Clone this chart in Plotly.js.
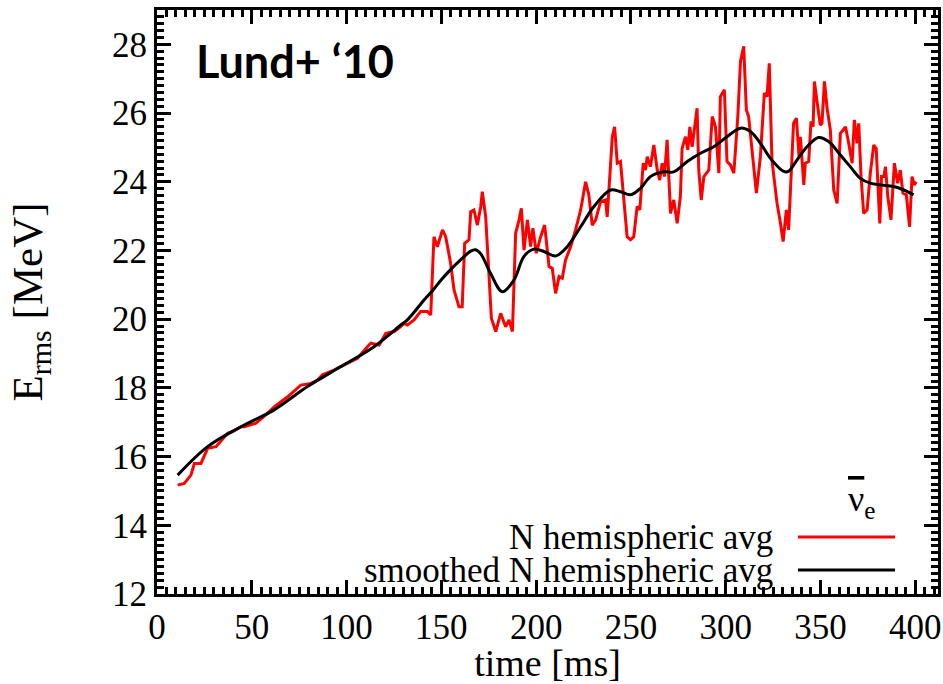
<!DOCTYPE html>
<html>
<head>
<meta charset="utf-8">
<script src="https://cdn.plot.ly/plotly-3.0.1.min.js"></script>
<style>html,body{margin:0;padding:0;background:#fff;}#chart{width:943px;height:684px;}</style>
</head>
<body>
<div id="chart"></div>
<script>
// time [ms] and E_rms [MeV] for the N hemispheric average (red)
const timeRaw = [10.9,14.4,17.9,19.7,23.2,26.7,31.1,37.3,39.9,44.3,46,52.2,58.3,61.8,68.9,75.9,81.2,84.7,87.3,93.4,100.5,105.8,111,112.8,117.2,120.7,125.1,128.6,130.3,132.1,135.6,139.1,142.7,144.4,146.1,147.9,150.6,152.3,154.1,154.9,156.7,159.3,161,162.3,164.6,165.5,167.2,169,170.8,171.6,173.4,175.1,176.4,178.7,181.3,183.9,185.7,187.5,189.2,191,192.2,193.6,195.4,197.1,198.3,200.1,202.4,204.5,206.8,208.5,210.3,212.1,213.8,215.5,218.2,220.8,223.5,226.1,227.8,229.6,231.4,234,236.6,237.5,240.2,241.4,242.8,244.5,248,249.8,251.5,253.3,254.7,256.5,257.7,258.6,260.3,262.1,263.9,265.2,266.5,267.7,269.1,270.9,272.6,274.4,276.1,277,278.8,280,281.1,282.3,283.7,284.9,285.8,287.1,288.5,291.1,292.9,294.6,296.4,297.2,299.3,300.7,302.5,304.3,306.4,307.8,309.5,310.9,312.1,313.9,314.8,316.2,318.3,320.4,321.8,323,324.4,327.1,328.9,330.3,332,333.2,335.8,337.3,338.7,339.4,341.2,342,343.8,345,346.1,346.8,348.2,349.9,350.8,352.1,353.5,355.2,357,358.8,360.5,363.2,364.9,366.7,367.9,369.3,370.2,371.4,372.8,374.6,376.3,378.1,379.4,381.3,382.2,383.4,384.3,385.5,387.2,389,390.7,392.1,393.5,395.3,397,398.3,399.5,400.5];
const erRaw = [15.17,15.22,15.46,15.8,15.8,16.24,16.29,16.68,16.73,16.87,16.87,16.97,17.26,17.45,17.74,18.08,18.13,18.23,18.38,18.52,18.72,18.86,19.2,19.3,19.25,19.59,19.64,19.78,19.88,19.83,19.98,20.22,20.22,20.12,22.4,22.11,22.6,22.4,21.87,21.62,20.85,20.36,20.36,22.21,22.31,23.13,23.18,22.74,23.28,23.71,22.98,21.14,20.03,19.64,20.17,19.78,19.98,19.64,22.5,22.89,23.23,22.01,22.89,22.11,22.65,21.92,22.4,22.74,21.53,21.48,20.75,21.24,21.19,21.72,22.11,22.6,23.18,24.0,23.62,22.74,22.89,23.42,23.47,22.98,25.31,25.6,24.54,24.59,22.4,22.31,22.4,23.28,23.18,24.54,24.34,24.73,24.44,25.07,24.34,24.05,24.54,24.15,25.22,23.08,23.47,22.79,23.57,24.97,25.31,24.93,25.6,25.02,25.6,26.14,24.34,23.47,24.15,24.34,25.9,25.6,24.25,26.48,26.68,24.59,24.49,24.25,25.9,27.5,27.94,26.09,25.9,24.93,24.25,23.67,24.73,26.58,26.48,27.45,24.63,23.37,22.79,22.26,23.18,22.6,25.7,25.85,24.73,25.31,23.91,24.54,24.59,25.75,25.6,26.92,26.33,25.65,25.7,26.92,26.14,25.51,23.76,23.37,25.41,25.6,25.12,24.54,25.8,25.12,25.7,24.15,23.08,23.18,24.25,25.07,24.97,22.79,24.15,24.15,24.44,23.57,22.89,24.54,23.96,24.34,23.67,23.62,22.69,24.15,23.91,24.0];

// smoothed N hemispheric average (black)
const timeSmooth = [10.9,26.7,44.3,61.8,79.4,97,114.5,128.6,132.1,140.9,146.1,150,155,160,165.5,168,170.8,176,182.2,188.3,193.6,198.8,204.1,210.3,216.4,223.5,230.5,239.3,244.5,249.8,255.1,260.3,267.4,272.6,279.7,286.7,293.7,300.7,307.8,313,318.3,323.6,330.6,333,337.6,342.9,349,354.3,360.5,365.7,371,376.3,381.6,388.6,393.9,399.1];
const erSmooth = [15.46,16.29,16.87,17.36,18.04,18.62,19.2,19.83,19.98,20.56,20.88,21.15,21.45,21.72,21.98,22.02,21.9,21.33,20.8,21.14,21.83,22.04,21.97,21.84,22.11,22.69,23.28,23.76,23.71,23.62,23.81,24.15,24.29,24.29,24.59,24.83,25.02,25.31,25.56,25.46,25.12,24.68,24.3,24.3,24.63,25.02,25.29,25.17,24.78,24.44,24.1,23.96,23.91,23.86,23.76,23.62];

const xRange = [0, 412], yRange = [12, 29];
const xTickStep = 50, xMinorStep = 5;
const yTickStep = 2, yMinorStep = 0.2;
const seriesNames = ['N hemispheric avg','smoothed N hemispheric avg'];
const seriesColors = ['#ff0000','#000000'];

const serif = 'Liberation Serif, Times New Roman, serif';

const traces = [
  {x: timeRaw, y: erRaw, type:'scatter', mode:'lines', name: seriesNames[0],
   line:{color: seriesColors[0], width:3}},
  {x: timeSmooth, y: erSmooth, type:'scatter', mode:'lines', name: seriesNames[1],
   line:{color: seriesColors[1], width:3, shape:'spline', smoothing:1}}
];

const layout = {
  width:943, height:684,
  margin:{l:157, r:5, t:10, b:90},
  paper_bgcolor:'#fff', plot_bgcolor:'#fff',
  showlegend:false,
  xaxis: {
    range: xRange, tickmode:'linear', tick0:0, dtick: xTickStep,
    showgrid:false, zeroline:false, showline:true, linecolor:'#000', linewidth:3, mirror:'allticks',
    ticks:'inside', ticklen:14, tickwidth:3, tickcolor:'#000', layer:'above traces',
    minor:{ticks:'inside', ticklen:7, tickwidth:2.5, tickcolor:'#000', dtick: xMinorStep, tick0:0, showgrid:false},
    tickfont:{family: serif, size:35, color:'#000'},
    title:{text:'time [ms]', font:{family: serif, size:38, color:'#000'}, standoff:13}
  },
  yaxis: {
    range: yRange, tickmode:'linear', tick0:12, dtick: yTickStep,
    showgrid:false, zeroline:false, showline:true, linecolor:'#000', linewidth:3, mirror:'allticks',
    ticks:'inside', ticklen:14, tickwidth:3, tickcolor:'#000', layer:'above traces',
    minor:{ticks:'inside', ticklen:7, tickwidth:2.5, tickcolor:'#000', dtick: yMinorStep, tick0:12, showgrid:false},
    tickfont:{family: serif, size:35, color:'#000'},
    title:{text:'E<sub>rms</sub> [MeV]', font:{family: serif, size:43, color:'#000'}, standoff:56}
  },
  annotations:[
    {xref:'paper', yref:'paper', x:0.048, y:0.913, xanchor:'left', yanchor:'middle', showarrow:false,
     text:'<b>Lund+ \u201810</b>', font:{family:'Lato, Open Sans, sans-serif', size:45, color:'#000'}},
    {xref:'paper', yref:'paper', x:0.902, y:0.158, xanchor:'center', yanchor:'middle', showarrow:false,
     text:'<span style="text-decoration:overline">\u03bd</span><sub>e</sub>', font:{family: serif, size:36, color:'#000'}},
    {xref:'paper', yref:'paper', x:0.791, y:0.0976, xanchor:'right', yanchor:'middle', showarrow:false,
     text: seriesNames[0], font:{family: serif, size:35, color:'#000'}},
    {xref:'paper', yref:'paper', x:0.791, y:0.041, xanchor:'right', yanchor:'middle', showarrow:false,
     text: seriesNames[1], font:{family: serif, size:35, color:'#000'}}
  ],
  shapes:[
    {type:'line', xref:'paper', yref:'paper', x0:0.8207, x1:0.945, y0:0.0976, y1:0.0976,
     line:{color: seriesColors[0], width:3}},
    {type:'line', xref:'paper', yref:'paper', x0:0.8207, x1:0.945, y0:0.041, y1:0.041,
     line:{color: seriesColors[1], width:3}}
  ]
};

Plotly.newPlot('chart', traces, layout, {displayModeBar:false});
</script>
</body>
</html>
